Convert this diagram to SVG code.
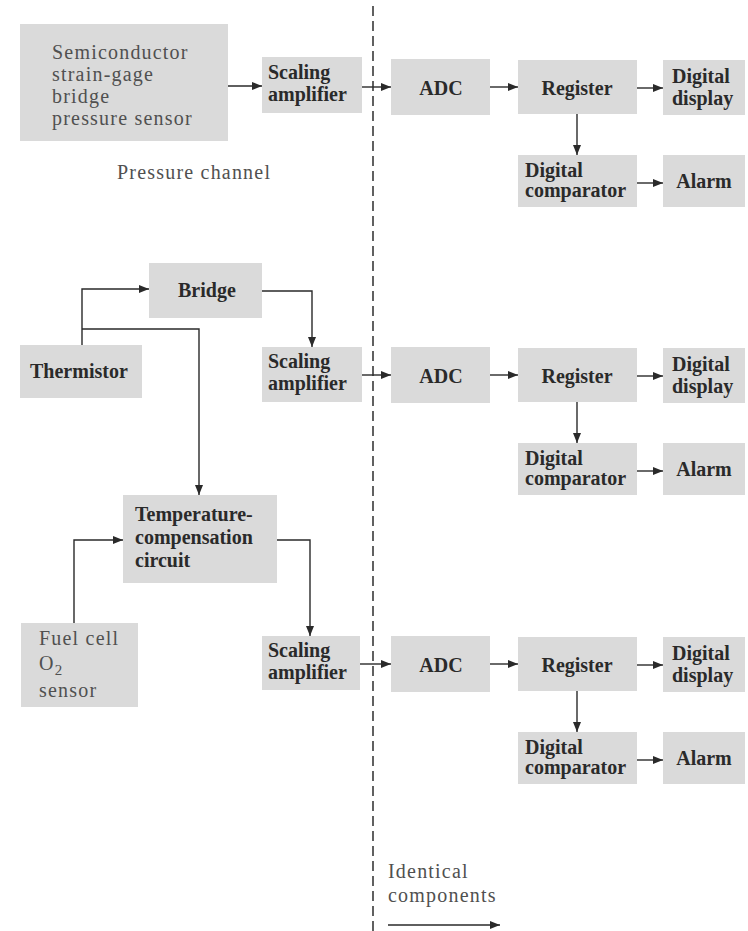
<svg xmlns="http://www.w3.org/2000/svg" width="748" height="931" viewBox="0 0 748 931">
<defs>
<marker id="ah" viewBox="0 0 10 8" refX="10" refY="4" markerWidth="10" markerHeight="8" markerUnits="userSpaceOnUse" orient="auto">
<path d="M0,0 L10,4 L0,8 Z" fill="#2a2a2a"/>
</marker>
<style>
.box{fill:#dadada;}
.t{font-family:"Liberation Serif",serif;font-size:20px;fill:#2a2a2a;font-weight:bold;}
.l{font-family:"Liberation Serif",serif;font-size:20px;fill:#505050;letter-spacing:1.2px;}
.c{text-anchor:middle;}
.ln{fill:none;stroke:#2a2a2a;stroke-width:1.4;}
.dash{fill:none;stroke:#3a3a3a;stroke-width:1.6;stroke-dasharray:10 5;}
</style>
</defs>
<rect width="748" height="931" fill="#ffffff"/>

<line class="dash" x1="373" y1="6" x2="373" y2="931"/>

<g id="sensor-pressure">
<rect class="box" x="20" y="24" width="208" height="117"/>
<text class="l" x="52" y="59">Semiconductor</text>
<text class="l" x="52" y="81">strain-gage</text>
<text class="l" x="52" y="103">bridge</text>
<text class="l" x="52" y="125">pressure sensor</text>
</g>
<text id="label-pressure-channel" class="l" x="117" y="179">Pressure channel</text>

<g id="scaling-1">
<rect class="box" x="262" y="57" width="100" height="56"/>
<text class="t" x="268" y="79">Scaling</text>
<text class="t" x="268" y="101">amplifier</text>
</g>

<g id="thermistor">
<rect class="box" x="20" y="345" width="122" height="53"/>
<text class="t" x="30" y="378">Thermistor</text>
</g>
<g id="bridge">
<rect class="box" x="149" y="263" width="113" height="55"/>
<text class="t" x="178" y="297">Bridge</text>
</g>
<g id="scaling-2">
<rect class="box" x="262" y="347" width="100" height="55"/>
<text class="t" x="268" y="368">Scaling</text>
<text class="t" x="268" y="390">amplifier</text>
</g>
<g id="temp-comp">
<rect class="box" x="123" y="495" width="154" height="88"/>
<text class="t" x="135" y="521">Temperature-</text>
<text class="t" x="135" y="544">compensation</text>
<text class="t" x="135" y="567">circuit</text>
</g>
<g id="fuel-cell">
<rect class="box" x="21" y="623" width="117" height="84"/>
<text class="l" x="39" y="645">Fuel cell</text>
<text class="l" x="39" y="670">O<tspan dy="5" font-size="15">2</tspan></text>
<text class="l" x="39" y="697">sensor</text>
</g>
<g id="scaling-3">
<rect class="box" x="262" y="636" width="98" height="54"/>
<text class="t" x="268" y="657">Scaling</text>
<text class="t" x="268" y="679">amplifier</text>
</g>

<g id="adc-1"><rect class="box" x="391" y="59" width="99" height="56"/><text class="t c" x="441" y="95">ADC</text></g>
<g id="register-1"><rect class="box" x="518" y="60" width="119" height="54"/><text class="t c" x="577" y="95">Register</text></g>
<g id="display-1"><rect class="box" x="663" y="60" width="82" height="55"/><text class="t" x="672" y="83">Digital</text><text class="t" x="672" y="105">display</text></g>
<g id="comparator-1"><rect class="box" x="518" y="155" width="119" height="52"/><text class="t" x="525" y="177">Digital</text><text class="t" x="525" y="197">comparator</text></g>
<g id="alarm-1"><rect class="box" x="663" y="155" width="82" height="52"/><text class="t c" x="704" y="188">Alarm</text></g>

<g id="adc-2" transform="translate(0,288)"><rect class="box" x="391" y="59" width="99" height="56"/><text class="t c" x="441" y="95">ADC</text></g>
<g id="register-2" transform="translate(0,288)"><rect class="box" x="518" y="60" width="119" height="54"/><text class="t c" x="577" y="95">Register</text></g>
<g id="display-2" transform="translate(0,288)"><rect class="box" x="663" y="60" width="82" height="55"/><text class="t" x="672" y="83">Digital</text><text class="t" x="672" y="105">display</text></g>
<g id="comparator-2" transform="translate(0,288)"><rect class="box" x="518" y="155" width="119" height="52"/><text class="t" x="525" y="177">Digital</text><text class="t" x="525" y="197">comparator</text></g>
<g id="alarm-2" transform="translate(0,288)"><rect class="box" x="663" y="155" width="82" height="52"/><text class="t c" x="704" y="188">Alarm</text></g>

<g id="adc-3" transform="translate(0,577)"><rect class="box" x="391" y="59" width="99" height="56"/><text class="t c" x="441" y="95">ADC</text></g>
<g id="register-3" transform="translate(0,577)"><rect class="box" x="518" y="60" width="119" height="54"/><text class="t c" x="577" y="95">Register</text></g>
<g id="display-3" transform="translate(0,577)"><rect class="box" x="663" y="60" width="82" height="55"/><text class="t" x="672" y="83">Digital</text><text class="t" x="672" y="105">display</text></g>
<g id="comparator-3" transform="translate(0,577)"><rect class="box" x="518" y="155" width="119" height="52"/><text class="t" x="525" y="177">Digital</text><text class="t" x="525" y="197">comparator</text></g>
<g id="alarm-3" transform="translate(0,577)"><rect class="box" x="663" y="155" width="82" height="52"/><text class="t c" x="704" y="188">Alarm</text></g>

<g id="label-identical">
<text class="l" x="388" y="878">Identical</text>
<text class="l" x="388" y="902">components</text>
</g>

<g id="connectors">
<line class="ln" x1="228" y1="86" x2="262" y2="86" marker-end="url(#ah)"/>
<line class="ln" x1="362" y1="87" x2="391" y2="87" marker-end="url(#ah)"/>
<line class="ln" x1="362" y1="375" x2="391" y2="375" marker-end="url(#ah)"/>
<line class="ln" x1="360" y1="664" x2="391" y2="664" marker-end="url(#ah)"/>
<g>
<line class="ln" x1="490" y1="87" x2="518" y2="87" marker-end="url(#ah)"/>
<line class="ln" x1="637" y1="88" x2="663" y2="88" marker-end="url(#ah)"/>
<line class="ln" x1="577" y1="114" x2="577" y2="155" marker-end="url(#ah)"/>
<line class="ln" x1="637" y1="183" x2="663" y2="183" marker-end="url(#ah)"/>
</g>
<g transform="translate(0,288)">
<line class="ln" x1="490" y1="87" x2="518" y2="87" marker-end="url(#ah)"/>
<line class="ln" x1="637" y1="88" x2="663" y2="88" marker-end="url(#ah)"/>
<line class="ln" x1="577" y1="114" x2="577" y2="155" marker-end="url(#ah)"/>
<line class="ln" x1="637" y1="183" x2="663" y2="183" marker-end="url(#ah)"/>
</g>
<g transform="translate(0,577)">
<line class="ln" x1="490" y1="87" x2="518" y2="87" marker-end="url(#ah)"/>
<line class="ln" x1="637" y1="88" x2="663" y2="88" marker-end="url(#ah)"/>
<line class="ln" x1="577" y1="114" x2="577" y2="155" marker-end="url(#ah)"/>
<line class="ln" x1="637" y1="183" x2="663" y2="183" marker-end="url(#ah)"/>
</g>
<path class="ln" d="M82,345 V289 H149" marker-end="url(#ah)"/>
<path class="ln" d="M82,329 H199 V495" marker-end="url(#ah)"/>
<path class="ln" d="M262,291 H312 V347" marker-end="url(#ah)"/>
<path class="ln" d="M74,623 V540 H123" marker-end="url(#ah)"/>
<path class="ln" d="M277,540 H310 V636" marker-end="url(#ah)"/>
<line class="ln" x1="388" y1="925" x2="500" y2="925" marker-end="url(#ah)"/>
</g>
</svg>
